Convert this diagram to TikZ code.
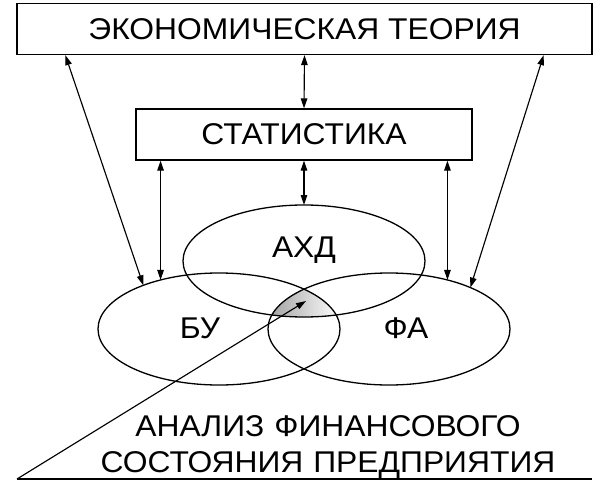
\documentclass[tikz,border=0pt]{standalone}
\usepackage{fontspec}
\setmainfont{Liberation Sans}[FakeStretch=1.06]
\usetikzlibrary{calc}
\usetikzlibrary{shapes.geometric}
\usetikzlibrary{arrows.meta}
\newcommand{\labelsize}{\fontsize{30}{36}\selectfont}
\tikzset{box/.style={draw,line width=1.3pt,inner sep=0pt,minimum width=#1,minimum height=51pt,font=\labelsize},box/.default=336pt}
\tikzset{oval/.style={draw,ellipse,line width=1.3pt,inner sep=0pt,outer sep=0pt,minimum width=242pt,minimum height=112pt}}
\tikzset{word/.style={inner sep=0pt,anchor=base,font=\labelsize}}

\begin{document}
\begin{tikzpicture}[x=1pt,y=-1pt,>={Triangle[length=10pt,width=6.5pt]},line width=1.15pt]
		\useasboundingbox (0,0) rectangle (610,500);

		\coordinate (E) at (304.5,29);
		\coordinate (S) at (304,134.5);
		\coordinate (A) at (304,261);
		\coordinate (B) at (219,329);
		\coordinate (F) at (389,329);
		\coordinate (foot) at (17,479);
		\coordinate (tail) at (592,479);
		\coordinate (core) at (306,301);

		% common part of the three ovals
		\begin{scope}
			\clip (A) ellipse [x radius=121,y radius=56];
			\clip (B) ellipse [x radius=121,y radius=56];
			\clip (F) ellipse [x radius=121,y radius=56];
			\fill [left color=black!35,right color=white] (272,285) rectangle (340,320);
		\end{scope}

		\node [box=575pt] (econ) at (E) {ЭКОНОМИЧЕСКАЯ ТЕОРИЯ};
		\node [box] (stat) at (S) {СТАТИСТИКА};

		\node [oval] (ahd) at (A) {};
		\node [oval] (bu) at (B) {};
		\node [oval] (fa) at (F) {};

		\node [word] (ahdtext) at ($(A)+(0,-4)$) {АХД};
		\node [word] (butext) at ($(B)+(-19,9)$) {БУ};
		\node [word] (fatext) at ($(F)+(17,9)$) {ФА};

		\draw [<->] (econ.south) -- (stat.north);
		\draw [<->] (stat.south) -- (ahd.north);
		\draw [<->] (bu.140 |- stat.south) -- (bu.140);
		\draw [<->] (fa.40 |- stat.south) -- (fa.40);
		\draw [<->] ($(econ.south west)+(49,0)$) -- (bu.150);
		\draw [<->] ($(econ.south east)-(49,0)$) -- (fa.27);

		\draw [->] (foot) -- (core);
		\draw (foot) -- (tail);

		\node [word,text width=520pt,align=center] (note) at (328,436)
			{АНАЛИЗ ФИНАНСОВОГО\\СОСТОЯНИЯ ПРЕДПРИЯТИЯ};

	\end{tikzpicture}
\end{document}
